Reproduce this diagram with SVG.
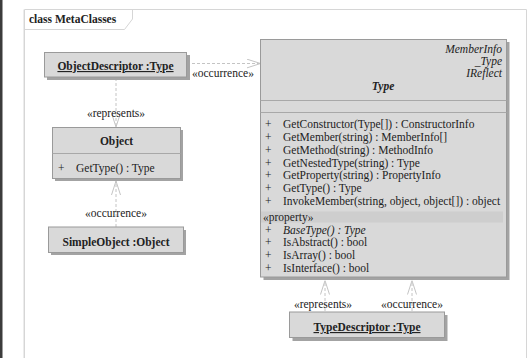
<svg xmlns="http://www.w3.org/2000/svg" width="528" height="358" viewBox="0 0 528 358">
  <style>
    text { font-family: "Liberation Serif", "Times New Roman", serif; font-size: 11.5px; fill: #222; }
    .b { font-weight: bold; }
    .i { font-style: italic; }
    .c { text-anchor: middle; }
    .r { text-anchor: end; }
    .u { text-decoration: underline; }
    .box { fill: #d9d9d9; stroke: #9a9a9a; stroke-width: 1; }
    .shadow { fill: #a3a3a3; }
    .sep { stroke: #a8a8a8; stroke-width: 1; }
    .dep { fill: none; stroke: #c4c4c4; stroke-width: 1; stroke-dasharray: 3 2; }
    .frame { fill: none; stroke: #d6d6d6; stroke-width: 1; }
  </style>
  <defs>
    <marker id="open" viewBox="0 0 14 10" refX="14" refY="5" markerWidth="14" markerHeight="10" markerUnits="userSpaceOnUse" orient="auto">
      <path d="M0,0.5 L14,5 L0,9.5" fill="none" stroke="#c4c4c4" stroke-width="1"/>
    </marker>
  </defs>

  <rect x="0" y="0" width="528" height="358" fill="#ffffff"/>
  <rect x="0" y="0" width="2.5" height="358" fill="#3c3c3c"/>

  <!-- diagram frame -->
  <g id="frame">
    <path class="frame" d="M24.5,370 L24.5,9.5 L526.5,9.5 L526.5,370"/>
    <line x1="23.5" y1="9.5" x2="23.5" y2="370" stroke="#ececec" stroke-width="1"/>
    <path class="frame" d="M24.5,29.5 L124.5,29.5 L132.5,19 L132.5,9.5"/>
    <text class="b" x="29" y="23">class MetaClasses</text>
  </g>

  <!-- dependencies -->
  <g id="connectors">
    <line class="dep" x1="187" y1="63.5" x2="260.5" y2="63.5" marker-end="url(#open)"/>
    <text x="192" y="77">«occurrence»</text>

    <line class="dep" x1="116" y1="78" x2="116" y2="127" marker-end="url(#open)"/>
    <text class="c" x="116" y="117">«represents»</text>

    <line class="dep" x1="116" y1="227" x2="116" y2="181" marker-end="url(#open)"/>
    <text class="c" x="116" y="217">«occurrence»</text>

    <line class="dep" x1="325" y1="311" x2="325" y2="280.5" marker-end="url(#open)"/>
    <text class="c" x="323" y="308">«represents»</text>

    <line class="dep" x1="412" y1="311" x2="412" y2="280.5" marker-end="url(#open)"/>
    <text class="c" x="412" y="308">«occurrence»</text>
  </g>

  <!-- instance ObjectDescriptor : Type -->
  <g id="objectDescriptor">
    <rect class="shadow" x="47" y="55" width="143" height="25"/>
    <rect class="box" x="44.5" y="52.5" width="142" height="24.5"/>
    <text class="b c u" x="115.5" y="70">ObjectDescriptor :Type</text>
  </g>

  <!-- class Object -->
  <g id="object">
    <rect class="shadow" x="55" y="130" width="128" height="51"/>
    <rect class="box" x="52.5" y="127.5" width="128" height="51"/>
    <line class="sep" x1="52.5" y1="153.5" x2="180.5" y2="153.5"/>
    <text class="b c" x="116.5" y="145">Object</text>
    <text x="58" y="172">+</text>
    <text x="76" y="172">GetType() : Type</text>
  </g>

  <!-- instance SimpleObject : Object -->
  <g id="simpleObject">
    <rect class="shadow" x="51" y="230" width="135" height="25"/>
    <rect class="box" x="48.5" y="227" width="135" height="25.5"/>
    <text class="b c" x="116" y="246">SimpleObject :Object</text>
  </g>

  <!-- class Type -->
  <g id="type">
    <rect class="shadow" x="263.5" y="42" width="246" height="238"/>
    <rect class="box" x="260.5" y="39.5" width="246" height="237.5"/>
    <text class="i r" x="502" y="53">MemberInfo</text>
    <text class="i r" x="502" y="65">_Type</text>
    <text class="i r" x="502" y="77">IReflect</text>
    <text class="b i c" x="383" y="90">Type</text>
    <line class="sep" x1="260.5" y1="100.5" x2="506.5" y2="100.5"/>
    <line class="sep" x1="260.5" y1="112.5" x2="506.5" y2="112.5"/>
    <g id="typeOperations">
      <text x="265" y="128">+</text><text x="283" y="128">GetConstructor(Type[]) : ConstructorInfo</text>
      <text x="265" y="141">+</text><text x="283" y="141">GetMember(string) : MemberInfo[]</text>
      <text x="265" y="153.5">+</text><text x="283" y="153.5">GetMethod(string) : MethodInfo</text>
      <text x="265" y="166.5">+</text><text x="283" y="166.5">GetNestedType(string) : Type</text>
      <text x="265" y="179">+</text><text x="283" y="179">GetProperty(string) : PropertyInfo</text>
      <text x="265" y="192">+</text><text x="283" y="192">GetType() : Type</text>
      <text x="265" y="204.5">+</text><text x="283" y="204.5">InvokeMember(string, object, object[]) : object</text>
    </g>
    <rect x="261" y="211.5" width="242" height="11" fill="#cecece"/>
    <text x="263" y="220.5">«property»</text>
    <g id="typeProperties">
      <text x="265" y="233.5">+</text><text class="i" x="283" y="233.5">BaseType() : Type</text>
      <text x="265" y="246">+</text><text x="283" y="246">IsAbstract() : bool</text>
      <text x="265" y="259">+</text><text x="283" y="259">IsArray() : bool</text>
      <text x="265" y="271.5">+</text><text x="283" y="271.5">IsInterface() : bool</text>
    </g>
  </g>

  <!-- instance TypeDescriptor : Type -->
  <g id="typeDescriptor">
    <rect class="shadow" x="292.5" y="315" width="155" height="26"/>
    <rect class="box" x="289.5" y="312" width="155" height="25.5"/>
    <text class="b c u" x="367" y="331">TypeDescriptor :Type</text>
  </g>
</svg>
